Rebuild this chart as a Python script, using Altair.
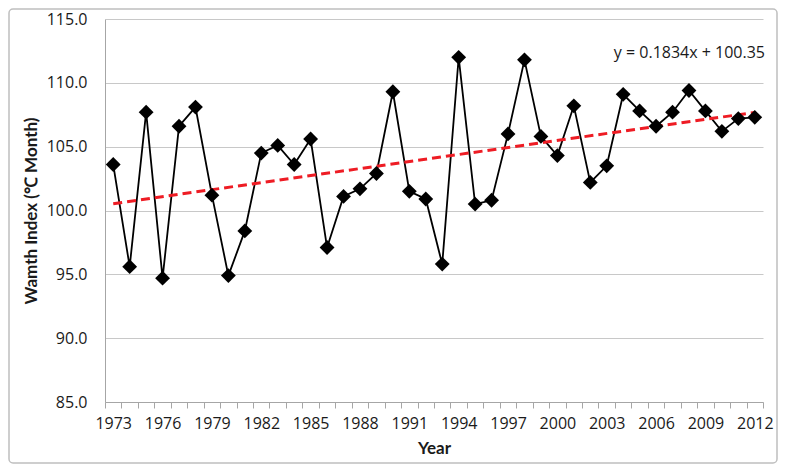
import altair as alt
import pandas as pd

years = list(range(1973, 2013))
warmth = [103.6, 95.6, 107.7, 94.7, 106.6, 108.1, 101.2, 94.9, 98.4, 104.5,
          105.1, 103.6, 105.6, 97.1, 101.1, 101.7, 102.9, 109.3, 101.5, 100.9,
          95.8, 112.0, 100.5, 100.8, 106.0, 111.8, 105.8, 104.3, 108.2, 102.2,
          103.5, 109.1, 107.8, 106.6, 107.7, 109.4, 107.8, 106.2, 107.2, 107.3]
slope = 0.1834
intercept = 100.35
equation = "y = 0.1834x + 100.35"
y_ticks = [85, 90, 95, 100, 105, 110, 115]

df = pd.DataFrame({"Year": [str(y) for y in years], "WI": warmth})
trend = pd.DataFrame({
    "Year": [str(years[0]), str(years[-1])],
    "WI": [slope * 1 + intercept, slope * len(years) + intercept],
})

LFONT = "Open Sans"
TFONT = "Lato"

x_enc = alt.X("Year:O", bandPosition=0.5,
              scale=alt.Scale(type="band", paddingInner=0, paddingOuter=0),
              axis=alt.Axis(title="Year", labelAngle=0, tickBand="extent",
                            labelExpr="(toNumber(datum.value) - 1973) % 3 == 0 ? datum.value : ''",
                            tickSize=6, tickColor="#a6a6a6", domainColor="#a6a6a6",
                            labelPadding=7, titlePadding=9, grid=False,
                            labelFont=LFONT, labelFontSize=16, labelColor="#1a1a1a",
                            titleFont=TFONT, titleFontSize=17, titleFontWeight="bold",
                            titleColor="#1a1a1a"))
y_enc = alt.Y("WI:Q", scale=alt.Scale(domain=[85, 115], nice=False, zero=False),
              axis=alt.Axis(title="Wamth Index (℃ Month)", values=y_ticks, format=".1f",
                            ticks=False, labelPadding=18, titlePadding=6,
                            domainColor="#a6a6a6", gridColor="#c8c8c8",
                            labelFont=LFONT, labelFontSize=16, labelColor="#1a1a1a",
                            titleFont=TFONT, titleFontSize=17, titleFontWeight="bold",
                            titleColor="#1a1a1a"))

base = alt.Chart(df)
line = base.mark_line(color="black", strokeWidth=1.8).encode(x=x_enc, y=y_enc)
pts = base.mark_point(shape="diamond", filled=True, color="black", size=220, opacity=1).encode(x=x_enc, y=y_enc)
tr = alt.Chart(trend).mark_line(color="#ee1c24", strokeWidth=3, strokeDash=[9, 5]).encode(x=x_enc, y=y_enc)
eq = alt.Chart(pd.DataFrame({"t": [equation]})).mark_text(
    align="right", baseline="middle", font=LFONT, fontSize=16, color="#1a1a1a"
).encode(x=alt.value(660), y=alt.value(34), text="t:N")
border = alt.Chart(pd.DataFrame({"a": [0]})).mark_rect(
    filled=False, stroke="#bfbfbf", strokeWidth=1.5, cornerRadius=4
).encode(x=alt.value(-96), x2=alt.value(672), y=alt.value(-10), y2=alt.value(444))

chart = alt.layer(border, line, tr, pts, eq).properties(
    width=658, height=383,
    autosize=alt.AutoSizeParams(type="none"),
    padding={"left": 97, "top": 11, "right": 15, "bottom": 62},
).configure_view(stroke=None)

chart.save("out.html", embed_options={"renderer": "svg", "actions": False})
